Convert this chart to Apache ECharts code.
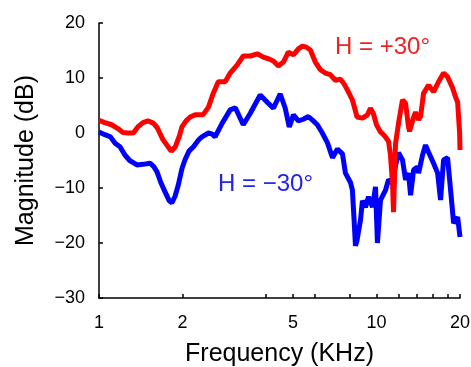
<!DOCTYPE html>
<html>
<head>
<meta charset="utf-8">
<script src="https://cdn.jsdelivr.net/npm/echarts@6/dist/echarts.min.js"></script>
<style>
  html, body { margin: 0; padding: 0; background: #fff; }
  #chart { width: 471px; height: 367px; }
</style>
</head>
<body>
<div id="chart"></div>
<script>
// [frequency in kHz, magnitude in dB]
const redCurve = [
  [1.00, 2.3], [1.05, 1.9], [1.11, 1.5], [1.17, 0.8], [1.22, 0.1], [1.27, 0.0],
  [1.33, 0.0], [1.38, 1.1], [1.44, 1.9], [1.50, 2.2], [1.57, 1.8], [1.62, 1.0],
  [1.70, -1.2], [1.78, -2.6], [1.82, -3.3], [1.88, -2.6], [1.95, -0.5], [1.99, 1.1],
  [2.06, 2.2], [2.13, 2.9], [2.22, 3.3], [2.37, 3.3], [2.48, 4.7], [2.58, 7.2],
  [2.69, 9.3], [2.85, 9.3], [2.97, 10.9], [3.15, 12.4], [3.31, 14.0], [3.51, 14.0],
  [3.72, 14.4], [3.91, 13.8], [4.08, 13.5], [4.25, 13.1], [4.43, 12.2], [4.62, 12.9],
  [4.81, 14.7], [5.02, 14.2], [5.23, 15.3], [5.41, 15.8], [5.59, 15.6], [5.78, 15.1],
  [6.02, 12.9], [6.28, 11.5], [6.55, 10.9], [6.82, 10.6], [7.11, 9.6], [7.42, 9.8],
  [7.67, 8.8], [7.86, 7.8], [8.19, 6.0], [8.40, 4.0], [8.51, 2.9], [8.90, 2.7],
  [9.28, 3.3], [9.51, 4.5], [9.75, 3.5], [10.0, 1.5], [10.34, 0.2], [10.69, -0.5],
  [11.05, -1.5], [11.23, -4.0], [11.42, -9.0], [11.52, -14.4], [11.61, -14.4], [11.71, -2.0],
  [12.01, 1.8], [12.41, 6.0], [12.73, 5.4], [13.05, 1.1], [13.16, 0.3], [13.61, 2.9],
  [13.83, 3.8], [14.18, 2.4], [14.42, 3.0], [14.78, 7.2], [15.41, 8.7], [16.06, 7.5],
  [16.74, 9.3], [17.45, 10.9], [18.04, 10.2], [18.81, 8.2], [19.29, 6.5], [19.61, 5.6],
  [19.94, 0.0], [20.0, -3.1]
];

const blueCurve = [
  [1.00, 0.2], [1.05, -0.3], [1.10, -0.7], [1.14, -1.8], [1.19, -2.5], [1.24, -4.0],
  [1.29, -5.0], [1.37, -5.8], [1.44, -5.7], [1.53, -5.5], [1.58, -6.2], [1.62, -7.1],
  [1.67, -9.0], [1.73, -10.7], [1.79, -12.3], [1.83, -12.7], [1.88, -11.5], [1.93, -9.5],
  [1.99, -6.5], [2.04, -4.9], [2.11, -3.3], [2.19, -2.5], [2.28, -1.3], [2.35, -0.7],
  [2.48, 0.0], [2.56, -0.2], [2.62, -0.7], [2.78, 1.8], [2.97, 4.2], [3.10, 4.6],
  [3.31, 1.5], [3.51, 3.6], [3.81, 6.9], [4.04, 5.6], [4.25, 4.5], [4.50, 7.1],
  [4.69, 4.5], [4.85, 1.1], [5.02, 3.3], [5.23, 2.2], [5.45, 2.5], [5.68, 3.0],
  [5.92, 2.2], [6.12, 1.5], [6.38, 0.0], [6.66, -1.8], [6.94, -4.5], [7.23, -2.9],
  [7.54, -3.8], [7.73, -7.3], [8.06, -9.0], [8.19, -10.4], [8.33, -17.0], [8.40, -20.5],
  [8.51, -19.5], [8.76, -15.8], [8.90, -12.3], [9.13, -13.5], [9.36, -11.6], [9.51, -12.5],
  [9.67, -13.5], [9.92, -9.8], [10.08, -20.0], [10.34, -12.2], [10.78, -10.4], [11.05, -8.5],
  [11.42, -9.0], [11.71, -6.0], [12.01, -3.6], [12.41, -4.9], [12.73, -8.5], [13.05, -7.3],
  [13.27, -11.3], [13.61, -6.7], [14.06, -6.2], [14.18, -7.3], [14.66, -4.0], [15.03, -2.2],
  [15.41, -3.5], [16.06, -5.5], [16.61, -7.3], [17.02, -12.2], [17.45, -4.9], [18.04, -4.5],
  [18.50, -10.4], [18.97, -16.4], [19.61, -15.3], [20.0, -18.9]
];

const freqLabels = [1, 2, 5, 10, 20];
const freqTicks = [1, 2, 4, 5, 6, 8, 10, 12, 14, 16, 18, 20];

const chart = echarts.init(document.getElementById('chart'), null, { renderer: 'canvas' });

const fmtDb = (v) => (v < 0 ? '\u2212' + Math.abs(v) : String(v));

const option = {
  animation: false,
  backgroundColor: '#ffffff',
  textStyle: { fontFamily: 'Liberation Sans' },
  grid: {
    left: 99,
    right: 11,
    top: 23,
    bottom: 69,
    containLabel: false,
    outerBoundsMode: 'none'
  },
  xAxis: {
    type: 'log',
    logBase: 10,
    min: 1,
    max: 20,
    name: 'Frequency (KHz)',
    nameLocation: 'middle',
    nameGap: 44,
    nameTextStyle: { fontSize: 25, color: '#000', fontFamily: 'Liberation Sans' },
    axisLine: { onZero: false, lineStyle: { color: '#000', width: 1.5 } },
    axisTick: { inside: true, length: 4, customValues: freqTicks, lineStyle: { color: '#000', width: 1.5 } },
    minorTick: { show: false },
    axisLabel: {
      customValues: freqLabels,
      margin: 16,
      fontSize: 18,
      color: '#000',
      formatter: (v) => String(Math.round(v))
    },
    splitLine: { show: false }
  },
  yAxis: {
    type: 'value',
    min: -30,
    max: 20,
    interval: 10,
    name: 'Magnitude (dB)',
    nameLocation: 'middle',
    nameGap: 60,
    nameTextStyle: { fontSize: 25, color: '#000', fontFamily: 'Liberation Sans' },
    axisLine: { show: true, onZero: false, lineStyle: { color: '#000', width: 1.5 } },
    axisTick: { show: true, inside: true, length: 4, lineStyle: { color: '#000', width: 1.5 } },
    axisLabel: { margin: 14, fontSize: 18, color: '#000', formatter: fmtDb },
    splitLine: { show: false }
  },
  graphic: [
    {
      type: 'text',
      left: 335,
      top: 35,
      style: { text: 'H = +30°', fontSize: 24, fill: '#ee2222', fontFamily: 'Liberation Sans' }
    },
    {
      type: 'text',
      left: 218,
      top: 172,
      style: { text: 'H = \u221230°', fontSize: 24, fill: '#2222ee', fontFamily: 'Liberation Sans' }
    }
  ],
  series: [
    {
      name: 'H = -30',
      type: 'line',
      data: blueCurve,
      showSymbol: false,
      lineStyle: { color: '#0000ff', width: 5 },
      itemStyle: { color: '#0000ff' }
    },
    {
      name: 'H = +30',
      type: 'line',
      data: redCurve,
      showSymbol: false,
      lineStyle: { color: '#ff0000', width: 5 },
      itemStyle: { color: '#ff0000' }
    }
  ]
};

chart.setOption(option);
</script>
</body>
</html>
